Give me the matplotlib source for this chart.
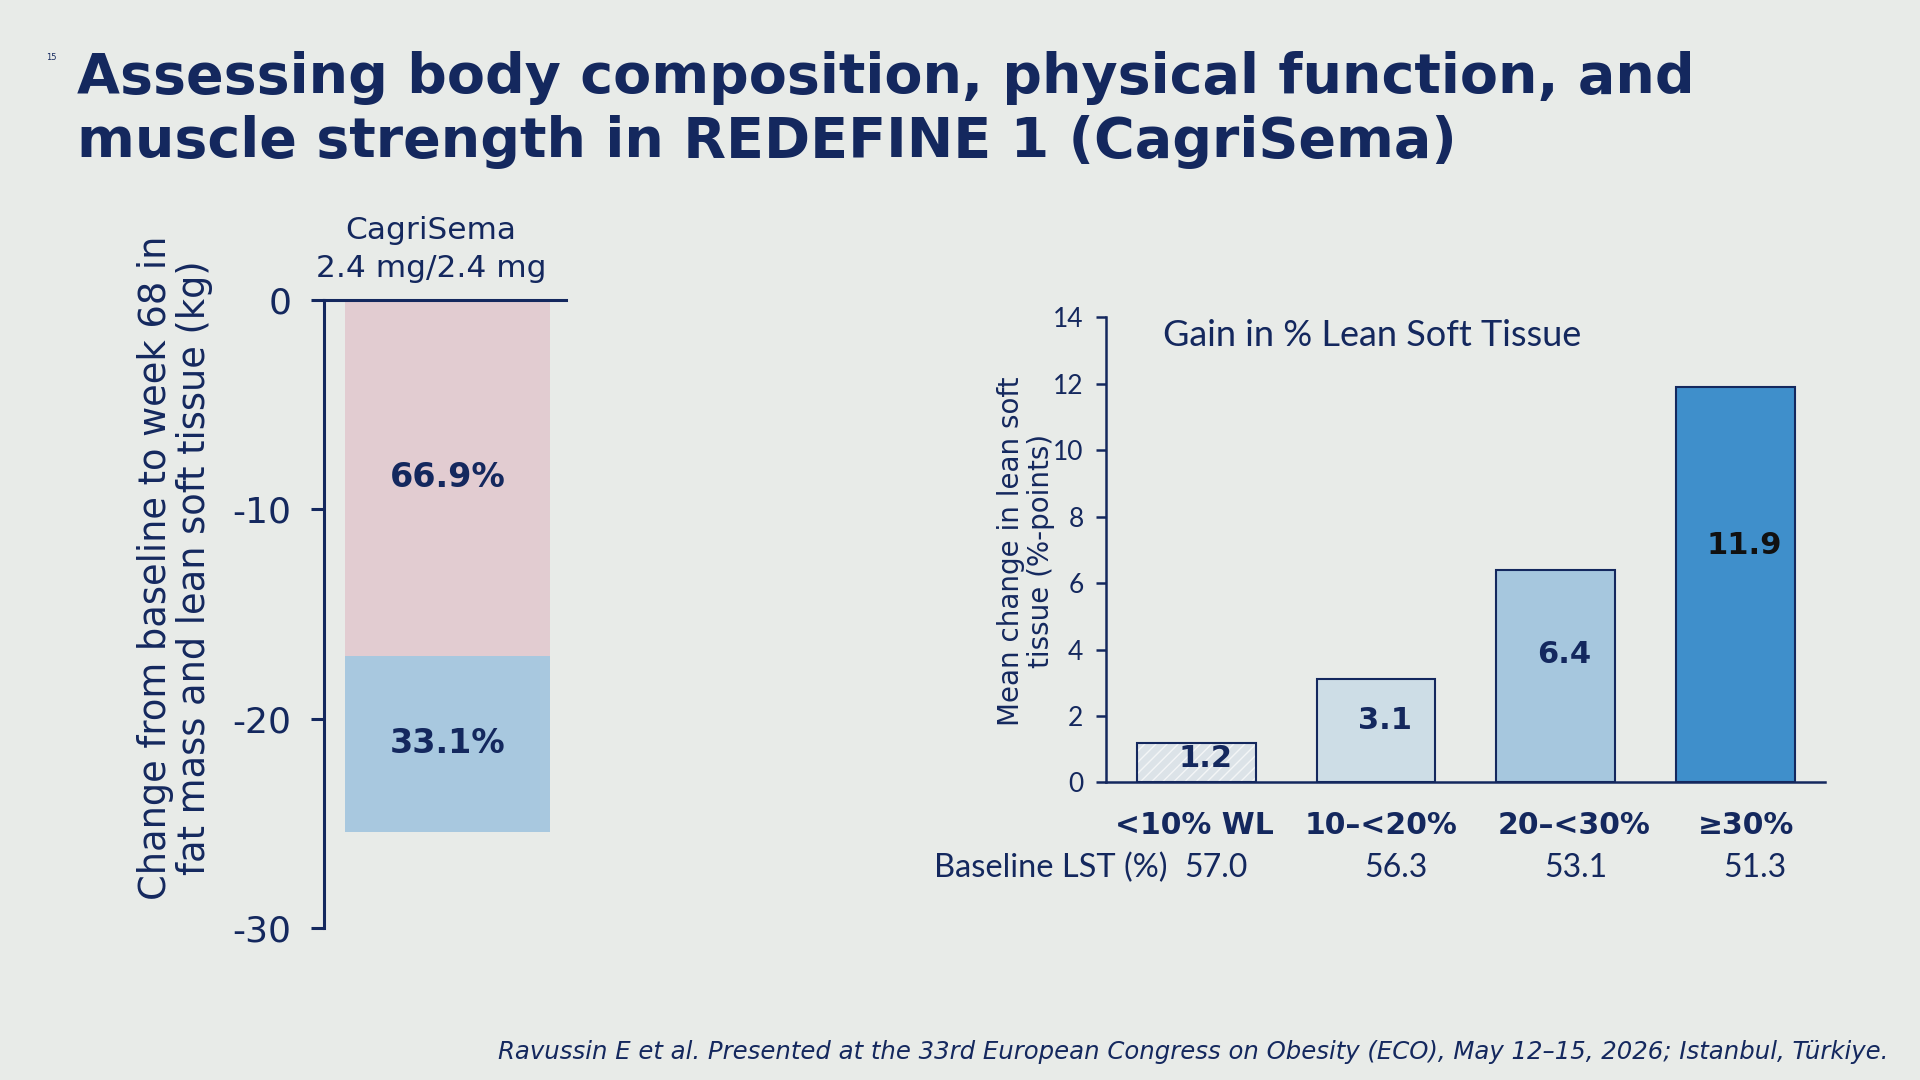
import numpy as np
import matplotlib
matplotlib.use("Agg")
import matplotlib.pyplot as plt

plt.rcParams["axes.unicode_minus"] = False

# ── Data ───────────────────────────────────────────────────────────────────────
total_change = -25.4          # kg, fat + lean soft tissue
share_labels = ["66.9%", "33.1%"]
share_values = [66.9, 33.1]   # fat mass, lean soft tissue

categories = ["<10% WL", "10\u2013<20%", "20\u2013<30%", "\u226530%"]
lst_gain = [1.2, 3.1, 6.4, 11.9]
baseline_lst = ["57.0", "56.3", "53.1", "51.3"]

# ── Style ──────────────────────────────────────────────────────────────────────
BG = "#E8EBE8"
NAVY = "#14285E"
PINK = "#E2CCD1"
LBLUE = "#A8C8DF"
bar_colors = ["#DCE3E8", "#CDDDE6", "#A6C7DE", "#3F8FCB"]
value_colors = [NAVY, NAVY, NAVY, "#111111"]
cat_shift = [-0.01, 0.03, 0.10, 0.06]   # small label offsets seen on the slide

fig = plt.figure(figsize=(19.2, 10.8), dpi=100, facecolor=BG)

# title + slide number
fig.text(0.0268, 0.9467, "15", fontsize=6, color=NAVY, ha="center", va="center")
fig.text(0.040, 0.898,
         "Assessing body composition, physical function, and\n"
         "muscle strength in REDEFINE 1 (CagriSema)",
         fontsize=40, fontweight="bold", color=NAVY, ha="left", va="center",
         linespacing=1.25)

# ── Left: stacked bar (kg) ─────────────────────────────────────────────────────
ax1 = fig.add_axes([0.1690, 0.1406, 0.1256, 0.5816])
ax1.set_facecolor("none")
fat = total_change * share_values[0] / 100
lean = total_change * share_values[1] / 100
ax1.bar(0.51, fat, width=0.848, color=PINK)
ax1.bar(0.51, lean, bottom=fat, width=0.848, color=LBLUE)
ax1.text(0.51, fat / 2, share_labels[0], ha="center", va="center",
         fontsize=24, fontweight="bold", color=NAVY)
ax1.text(0.51, fat + lean / 2, share_labels[1], ha="center", va="center",
         fontsize=24, fontweight="bold", color=NAVY)
ax1.set_xlim(0, 1)
ax1.set_ylim(-30, 0)
ax1.set_yticks([0, -10, -20, -30])
ax1.set_xticks([])
for s in ["right", "bottom"]:
    ax1.spines[s].set_visible(False)
for s in ["left", "top"]:
    ax1.spines[s].set_color(NAVY)
    ax1.spines[s].set_linewidth(2.2)
ax1.tick_params(axis="y", length=9.7, width=2.2, color=NAVY, labelcolor=NAVY,
                labelsize=26, pad=14)
fig.text(0.2245, 0.7868, "CagriSema", fontsize=22.5, color=NAVY, ha="center", va="center")
fig.text(0.2245, 0.7517, "2.4 mg/2.4 mg", fontsize=22.5, color=NAVY, ha="center", va="center")
fig.text(0.0912, 0.474,
         "Change from baseline to week 68 in\nfat mass and lean soft tissue (kg)",
         rotation=90, fontsize=26.5, color=NAVY, ha="center", va="center",
         multialignment="center", linespacing=1.05)

# ── Right: gain in % lean soft tissue ──────────────────────────────────────────
ax2 = fig.add_axes([0.5759, 0.2755, 0.3744, 0.4308])
ax2.set_facecolor("none")
x = np.arange(len(categories))
ax2.bar(x[:1], lst_gain[:1], width=0.661, color=bar_colors[0], hatch="///",
        edgecolor="#F4F6F7", linewidth=0)
ax2.bar(x[1:], lst_gain[1:], width=0.661, color=bar_colors[1:], linewidth=0)
ax2.bar(x, lst_gain, width=0.661, fill=False, edgecolor=NAVY, linewidth=1.5)
for i, v in enumerate(lst_gain):
    ax2.text(i + 0.05, v * 0.6, f"{v:.1f}", ha="center", va="center",
             fontsize=22, fontweight="bold", color=value_colors[i])

ax2.set_xlim(-0.504, 3.497)
ax2.set_ylim(0, 14)
ax2.set_yticks(range(0, 15, 2))
ax2.set_xticks([])
ax2.tick_params(axis="y", length=7, width=1.8, color=NAVY, labelcolor=NAVY,
                labelsize=19, pad=9)
for lab in ax2.get_yticklabels():
    lab.set_fontfamily("Lato")
for s in ["right", "top"]:
    ax2.spines[s].set_visible(False)
for s in ["left", "bottom"]:
    ax2.spines[s].set_color(NAVY)
    ax2.spines[s].set_linewidth(1.8)

trans = ax2.get_xaxis_transform()
for i, c in enumerate(categories):
    ax2.text(i + cat_shift[i], -0.092, c, transform=trans, ha="center", va="center",
             fontsize=21.5, fontweight="bold", color=NAVY)

ax2.text(0.08, 0.96, "Gain in % Lean Soft Tissue", transform=ax2.transAxes,
         fontsize=26, fontfamily="Lato", color=NAVY, ha="left", va="center")

ax2.text(-0.16, -0.184, "Baseline LST (%)", transform=trans, ha="right", va="center",
         fontsize=23.5, fontfamily="Lato", color=NAVY)
for i, b in enumerate(baseline_lst):
    ax2.text(i + 0.11, -0.184, b, transform=trans, ha="center", va="center",
             fontsize=23, fontfamily="Lato", color=NAVY)

fig.text(0.5344, 0.4898, "Mean change in lean soft\ntissue (%-points)",
         rotation=90, fontsize=20, color=NAVY, ha="center", va="center",
         multialignment="center", linespacing=1.05)

# citation
fig.text(0.9834, 0.0261,
         "Ravussin E et al. Presented at the 33rd European Congress on Obesity (ECO), "
         "May 12\u201315, 2026; Istanbul, T\u00fcrkiye.",
         fontsize=17.6, fontstyle="italic", color=NAVY, ha="right", va="center")

fig.savefig("out.png", dpi=100, facecolor=BG)
